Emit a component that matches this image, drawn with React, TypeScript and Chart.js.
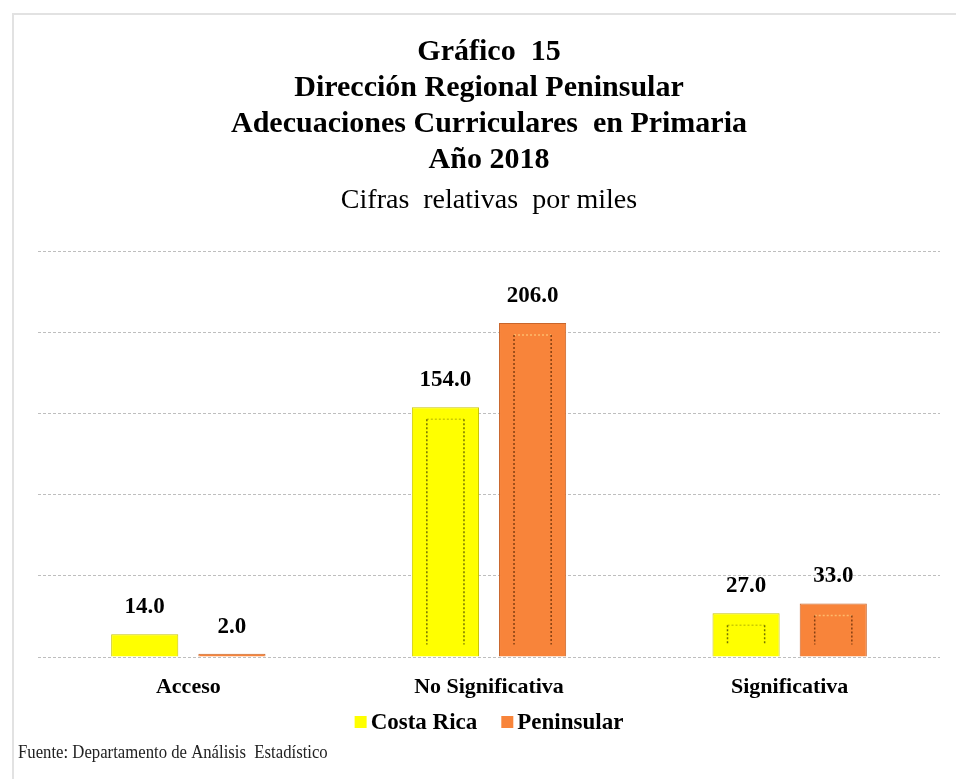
import React, { useEffect, useRef } from "react";
import { Chart, registerables } from "chart.js";

Chart.register(...registerables);

const categories = ["Acceso", "No Significativa", "Significativa"];
const seriesNames = ["Costa Rica", "Peninsular"];
const seriesColors = ["#FFFF00", "#F8843A"];
const seriesBorders = ["#C9C400", "#C8652A"];
const costaRica = [14.0, 154.0, 27.0];
const peninsular = [2.0, 206.0, 33.0];
const titleLines = [
  "Gráfico  15",
  "Dirección Regional Peninsular",
  "Adecuaciones Curriculares  en Primaria",
  "Año 2018",
];
const subtitleText = "Cifras  relativas  por miles";
const footerText = "Fuente: Departamento de Análisis  Estadístico";

const FONT = "'Liberation Serif', 'Times New Roman', serif";

const valueLabels = {
  id: "valueLabels",
  afterDatasetsDraw(chart: any) {
    const ctx = chart.ctx;
    ctx.save();
    chart.data.datasets.forEach((ds: any, di: number) => {
      const meta = chart.getDatasetMeta(di);
      meta.data.forEach((bar: any, i: number) => {
        const v = ds.data[i];
        const top = bar.y;
        const bottom = bar.base;
        const h = bottom - top;
        const w = bar.width;
        if (h > 30) {
          const left = bar.x - w / 2 + 15;
          const right = bar.x + w / 2 - 15;
          const it = top + 12;
          const ib = bottom - 12;
          ctx.setLineDash([2, 2]);
          ctx.lineWidth = 1.5;
          ctx.strokeStyle = di === 0 ? "rgba(190,190,0,0.8)" : "rgba(255,200,120,0.8)";
          ctx.beginPath();
          ctx.moveTo(left, it);
          ctx.lineTo(right, it);
          ctx.stroke();
          ctx.strokeStyle = di === 0 ? "rgba(90,90,0,0.85)" : "rgba(110,50,10,0.85)";
          ctx.beginPath();
          ctx.moveTo(left, it);
          ctx.lineTo(left, ib);
          ctx.moveTo(right, it);
          ctx.lineTo(right, ib);
          ctx.stroke();
          ctx.setLineDash([]);
        }
        ctx.fillStyle = "#000";
        ctx.font = `bold 23px ${FONT}`;
        ctx.textAlign = "center";
        ctx.textBaseline = "middle";
        ctx.fillText(v.toFixed(1), bar.x, bar.y - 27);
      });
    });
    ctx.restore();
  },
};

const legendAndFooter = {
  id: "legendAndFooter",
  afterDraw(chart: any) {
    const ctx = chart.ctx;
    ctx.save();
    ctx.font = `bold 23px ${FONT}`;
    ctx.textBaseline = "middle";
    ctx.textAlign = "left";
    const box = 12;
    const gapBoxText = 4;
    const gapItems = 24;
    const widths = seriesNames.map((n) => ctx.measureText(n).width);
    const total =
      widths.reduce((a, b) => a + b, 0) +
      seriesNames.length * (box + gapBoxText) +
      gapItems * (seriesNames.length - 1);
    const cx = (chart.chartArea.left + chart.chartArea.right) / 2;
    let x = cx - total / 2;
    const y = 722;
    seriesNames.forEach((n, i) => {
      ctx.fillStyle = seriesColors[i];
      ctx.fillRect(x, y - box / 2, box, box);
      x += box + gapBoxText;
      ctx.fillStyle = "#000";
      ctx.fillText(n, x, y + 1);
      x += widths[i] + gapItems;
    });
    ctx.fillStyle = "#222";
    ctx.font = `19px ${FONT}`;
    ctx.translate(18, 753);
    ctx.scale(0.88, 1);
    ctx.fillText(footerText, 0, 0);
    ctx.restore();
  },
};

export default function App() {
  const ref = useRef<HTMLCanvasElement | null>(null);
  useEffect(() => {
    document.body.style.margin = "0";
    if (!ref.current) return;
    const chart = new Chart(ref.current, {
      type: "bar",
      data: {
        labels: categories,
        datasets: [
          {
            label: seriesNames[0],
            data: costaRica,
            backgroundColor: seriesColors[0],
            borderColor: seriesBorders[0],
            borderWidth: 1,
            categoryPercentage: 0.58,
            barPercentage: 0.77,
          },
          {
            label: seriesNames[1],
            data: peninsular,
            backgroundColor: seriesColors[1],
            borderColor: seriesBorders[1],
            borderWidth: 1,
            categoryPercentage: 0.58,
            barPercentage: 0.77,
          },
        ],
      },
      plugins: [valueLabels, legendAndFooter],
      options: {
        responsive: false,
        animation: false,
        layout: { padding: { left: 38, right: 16, top: 0, bottom: 61.6 } },
        plugins: {
          title: {
            display: true,
            text: titleLines,
            color: "#000",
            font: { family: FONT, size: 30, weight: "bold", lineHeight: 1.2 },
            padding: { top: 34, bottom: 6 },
          },
          subtitle: {
            display: true,
            text: subtitleText,
            color: "#000",
            font: { family: FONT, size: 28, weight: "normal", lineHeight: 1.2 },
            padding: { top: 0, bottom: 34 },
          },
          legend: { display: false },
          tooltip: { enabled: false },
        },
        scales: {
          x: {
            grid: { display: false, drawTicks: false },
            border: { display: false },
            ticks: {
              color: "#000",
              padding: 17,
              font: { family: FONT, size: 22, weight: "bold" },
            },
          },
          y: {
            min: 0,
            max: 250,
            ticks: { display: false, stepSize: 50 },
            border: { display: false, dash: [3, 2] },
            grid: {
              color: "#BEBEBE",
              lineWidth: 1,
              drawTicks: false,
            },
          },
        },
      } as any,
    });
    return () => chart.destroy();
  }, []);
  return (
    <div style={{ position: "relative", width: 956, height: 779 }}>
      <div
        style={{
          position: "absolute",
          left: 12,
          top: 13,
          width: 944,
          height: 766,
          borderTop: "2px solid #E2E2E2",
          borderLeft: "2px solid #E2E2E2",
          boxSizing: "border-box",
        }}
      />
      <canvas
        ref={ref}
        width={956}
        height={779}
        style={{ position: "absolute", left: 0, top: 0 }}
      />
    </div>
  );
}
